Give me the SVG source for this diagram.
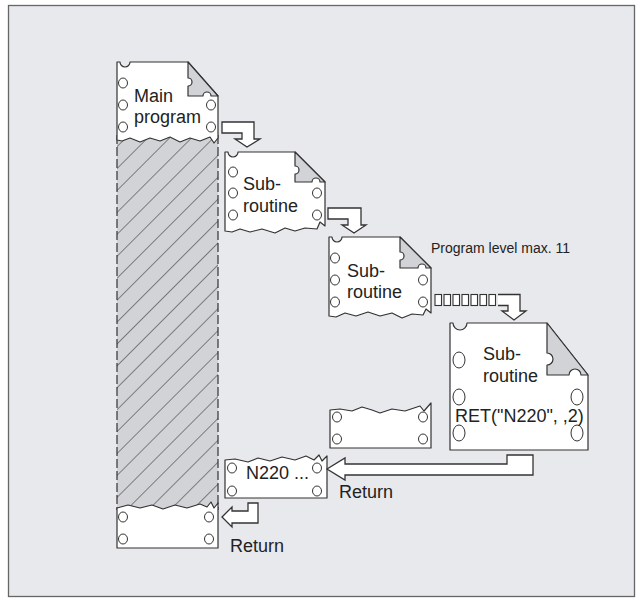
<svg xmlns="http://www.w3.org/2000/svg" width="643" height="605" viewBox="0 0 643 605">
<defs>
<pattern id="hatch" width="15.5" height="15.5" patternUnits="userSpaceOnUse" patternTransform="rotate(45)">
<rect width="15.5" height="15.5" fill="#d2d3d7"/>
<line x1="0" y1="0" x2="0" y2="15.5" stroke="#333" stroke-width="1.1"/>
</pattern>
<style>
.pg{fill:#fff;stroke:#333;stroke-width:1.2;stroke-linejoin:round}
.fold{fill:#d2d3d7;stroke:#333;stroke-width:1.2;stroke-linejoin:round}
.h{fill:#fff;stroke:#333;stroke-width:1}
.arr{fill:#fff;stroke:#333;stroke-width:1.3;stroke-linejoin:miter}
.t{font-family:"Liberation Sans",Arial,sans-serif;font-size:18px;fill:#222}
.s{font-family:"Liberation Sans",Arial,sans-serif;font-size:14px;fill:#222}
</style>
</defs>
<rect x="8.5" y="5.5" width="626" height="591" fill="#e8e9ed" stroke="#666" stroke-width="1.3"/>

<g id="hatched-column">
<rect x="117" y="135" width="101" height="375" fill="url(#hatch)"/>
<line x1="117" y1="135" x2="117" y2="510" stroke="#333" stroke-width="1.2" stroke-dasharray="9 3"/>
<line x1="218" y1="135" x2="218" y2="510" stroke="#333" stroke-width="1.2" stroke-dasharray="9 3"/>
</g>

<g id="main-program">
<path class="pg" d="M117,140 L117,62 L120,62 A5,5 0 0 0 130,62 L188,62 L218,96 L218,138 L214,143 L210,137 L200,141 L190,138 L180,142 L170,137 L160,141 L150,138 L140,142 L130,138 L122,141 Z"/>
<path class="fold" d="M188,62 L218,96 L211,96 A4,4 0 0 0 203,96 L188,96 L188,86 A4,4 0 0 0 188,78 Z"/>
<ellipse class="h" cx="123" cy="83" rx="4.5" ry="5"/>
<ellipse class="h" cx="123" cy="105" rx="4.5" ry="5"/>
<ellipse class="h" cx="123" cy="127" rx="4.5" ry="5"/>
<ellipse class="h" cx="211" cy="105" rx="4.5" ry="5"/>
<ellipse class="h" cx="211" cy="127" rx="4.5" ry="5"/>
<text class="t" x="134" y="102">Main</text>
<text class="t" x="134" y="123">program</text>
</g>

<g id="subroutine-1">
<path class="pg" d="M225,231 L225,152 L228,152 A5,5 0 0 0 238,152 L295,152 L325,182 L325,226 L320,222 L317,229 L305,228 L295,231 L285,228 L275,233 L262,229 L250,232 L240,229 L232,232 Z"/>
<path class="fold" d="M295,152 L325,182 L320,182 A4,4 0 0 0 312,182 L295,182 L295,174 A4,4 0 0 0 295,166 Z"/>
<ellipse class="h" cx="233" cy="172" rx="4.5" ry="5"/>
<ellipse class="h" cx="233" cy="193" rx="4.5" ry="5"/>
<ellipse class="h" cx="233" cy="215" rx="4.5" ry="5"/>
<ellipse class="h" cx="317" cy="193" rx="4.5" ry="5"/>
<ellipse class="h" cx="317" cy="215" rx="4.5" ry="5"/>
<text class="t" x="243" y="190">Sub-</text>
<text class="t" x="243" y="212">routine</text>
</g>

<g id="subroutine-2">
<path class="pg" d="M329,316 L329,237 L332,237 A5,5 0 0 0 342,237 L400,237 L431,268 L431,313 L426,309 L423,315 L412,314 L402,318 L392,313 L380,316 L368,312 L356,316 L345,313 L336,317 Z"/>
<path class="fold" d="M400,237 L431,268 L426,268 A4,4 0 0 0 418,268 L400,268 L400,260 A4,4 0 0 0 400,252 Z"/>
<ellipse class="h" cx="335" cy="258" rx="4.5" ry="5"/>
<ellipse class="h" cx="335" cy="280" rx="4.5" ry="5"/>
<ellipse class="h" cx="335" cy="302" rx="4.5" ry="5"/>
<ellipse class="h" cx="423" cy="280" rx="4.5" ry="5"/>
<ellipse class="h" cx="423" cy="302" rx="4.5" ry="5"/>
<text class="t" x="347" y="277">Sub-</text>
<text class="t" x="347" y="298">routine</text>
</g>

<g id="subroutine-3">
<path class="pg" d="M450,450 L450,323 L453,323 A7,7 0 0 0 467,323 L547,323 L588,375 L588,450 Z"/>
<path class="fold" d="M547,323 L588,375 L581,375 A6,6 0 0 0 569,375 L547,375 L547,365 A6,6 0 0 0 547,353 Z"/>
<ellipse class="h" cx="459" cy="360" rx="6" ry="8"/>
<ellipse class="h" cx="459" cy="397" rx="6" ry="8"/>
<ellipse class="h" cx="459" cy="433" rx="6" ry="8"/>
<ellipse class="h" cx="577" cy="397" rx="6" ry="8"/>
<ellipse class="h" cx="577" cy="433" rx="6" ry="8"/>
<text class="t" x="483" y="360">Sub-</text>
<text class="t" x="483" y="382">routine</text>
<text class="t" x="455" y="422">RET("N220", ,2)</text>
</g>

<g id="subroutine-2-end">
<path class="pg" d="M330,448 L330,410 L340,409 L352,411 L362,407 L372,410 L380,413 L392,409 L405,411 L414,408 L420,406 L424,411 L431,403 L431,448 Z"/>
<ellipse class="h" cx="337" cy="417" rx="4.5" ry="5"/>
<ellipse class="h" cx="337" cy="439" rx="4.5" ry="5"/>
<ellipse class="h" cx="423" cy="417" rx="4.5" ry="5"/>
<ellipse class="h" cx="423" cy="439" rx="4.5" ry="5"/>
</g>

<g id="subroutine-1-end">
<path class="pg" d="M225,498 L225,460 L235,459 L248,462 L258,458 L270,461 L282,457 L295,460 L306,456 L314,460 L319,455 L322,461 L327,456 L327,498 Z"/>
<ellipse class="h" cx="232" cy="468" rx="4.5" ry="5"/>
<ellipse class="h" cx="232" cy="491" rx="4.5" ry="5"/>
<ellipse class="h" cx="317" cy="468" rx="4.5" ry="5"/>
<ellipse class="h" cx="317" cy="491" rx="4.5" ry="5"/>
<text class="t" x="246" y="479">N220 ...</text>
</g>

<g id="main-program-end">
<path class="pg" d="M117,548 L117,508 L128,505 L140,508 L152,505 L163,509 L175,505 L187,508 L200,504 L207,507 L211,502 L214,508 L218,503 L218,548 Z"/>
<ellipse class="h" cx="123" cy="517" rx="4.5" ry="5"/>
<ellipse class="h" cx="123" cy="539" rx="4.5" ry="5"/>
<ellipse class="h" cx="209" cy="517" rx="4.5" ry="5"/>
<ellipse class="h" cx="209" cy="539" rx="4.5" ry="5"/>
</g>

<g id="connectors">
<path class="arr" d="M222,122 L254,122 L254,139 L260,139 L247,147 L235,139 L242,139 L242,133 L222,133 Z"/>
<path class="arr" d="M328,208 L361,208 L361,225 L366,225 L354,233 L342,225 L348,225 L348,219 L328,219 Z"/>
<g fill="#fff" stroke="#333" stroke-width="1.1">
<rect x="435" y="294.5" width="6.5" height="11"/>
<rect x="444" y="294.5" width="6.5" height="11"/>
<rect x="453" y="294.5" width="6.5" height="11"/>
<rect x="462" y="294.5" width="6.5" height="11"/>
<rect x="471" y="294.5" width="6.5" height="11"/>
<rect x="480" y="294.5" width="6.5" height="11"/>
<rect x="489" y="294.5" width="6.5" height="11"/>
</g>
<path class="arr" d="M498,294.5 L520,294.5 L520,311 L526,311 L514,320 L502,311 L508,311 L508,305.5 L498,305.5"/>
<path class="arr" d="M327,469 L345,458 L345,464 L507,464 L507,455 L533,455 L533,475 L345,475 L345,480 Z"/>
<path class="arr" d="M222,517 L232,507 L232,511 L248,511 L248,503 L258,503 L258,523 L232,523 L232,527 Z"/>
</g>

<text class="s" x="431" y="253">Program level max. 11</text>
<text class="t" x="339" y="498">Return</text>
<text class="t" x="230" y="552">Return</text>
</svg>
